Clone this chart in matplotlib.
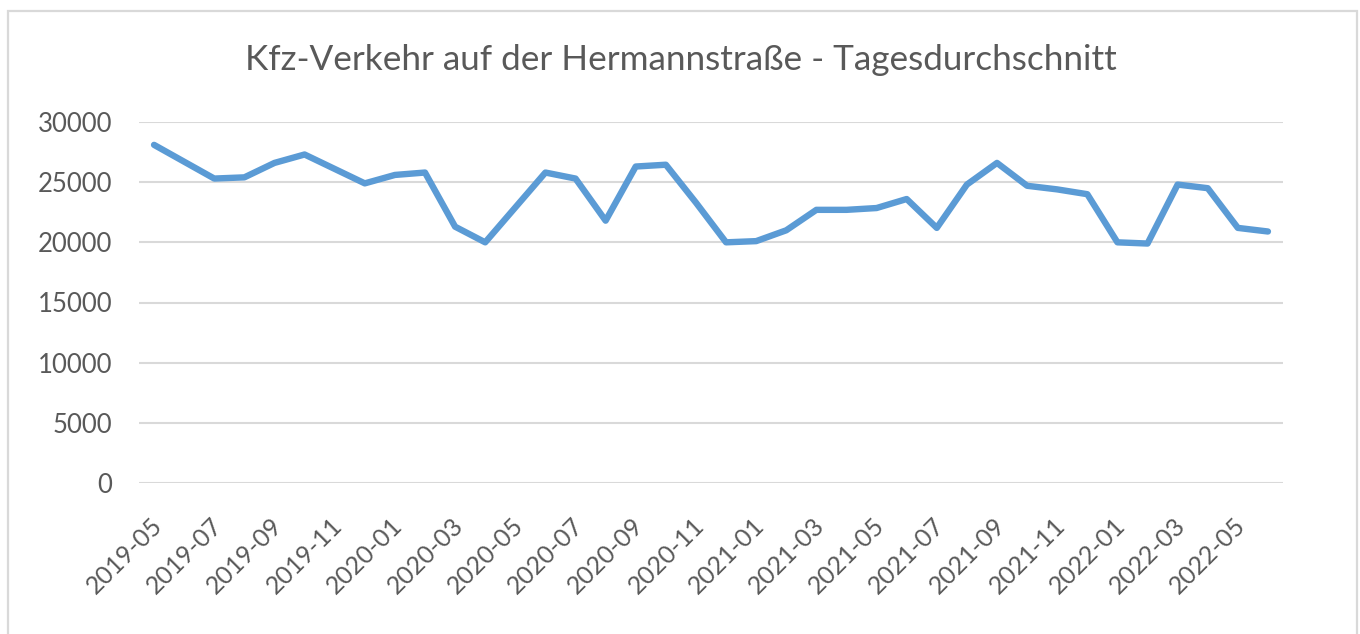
import matplotlib
matplotlib.use("Agg")
import matplotlib.pyplot as plt
from matplotlib.patches import Rectangle
import matplotlib.transforms as mtransforms

months = ["2019-05", "2019-06", "2019-07", "2019-08", "2019-09", "2019-10", "2019-11", "2019-12",
          "2020-01", "2020-02", "2020-03", "2020-04", "2020-05", "2020-06", "2020-07", "2020-08",
          "2020-09", "2020-10", "2020-11", "2020-12", "2021-01", "2021-02", "2021-03", "2021-04",
          "2021-05", "2021-06", "2021-07", "2021-08", "2021-09", "2021-10", "2021-11", "2021-12",
          "2022-01", "2022-02", "2022-03", "2022-04", "2022-05", "2022-06"]
traffic = [28100, 26700, 25300, 25400, 26600, 27300, 26100, 24900,
           25600, 25800, 21300, 20000, 22900, 25800, 25300, 21800,
           26300, 26450, 23300, 20000, 20100, 21000, 22700, 22700,
           22850, 23600, 21200, 24800, 26600, 24700, 24400, 24000,
           20000, 19900, 24800, 24500, 21200, 20900]
yticks = [0, 5000, 10000, 15000, 20000, 25000, 30000]
title = "Kfz-Verkehr auf der Hermannstraße - Tagesdurchschnitt"

W, H = 1360, 634
fig = plt.figure(figsize=(W / 100, H / 100), dpi=100)
fig.patch.set_facecolor("white")

# chart border
fig.patches.append(Rectangle((8 / W, -0.1), (1357 - 8) / W, 1 - 11 / H + 0.1,
                             transform=fig.transFigure, fill=False,
                             edgecolor="#D9D9D9", linewidth=1.6))

ax = fig.add_axes([139 / W, 1 - 483 / H, (1283 - 139) / W, (483 - 122) / H])
x = list(range(len(months)))
ax.plot(x, traffic, color="#5B9BD5", linewidth=4.6, solid_joinstyle="round",
        solid_capstyle="round", zorder=3)
ax.set_xlim(-0.5, len(months) - 0.5)
ax.set_ylim(0, 30000)
ax.set_yticks(yticks)
ax.set_yticklabels([str(v) for v in yticks])
ax.grid(axis="y", color="#D9D9D9", linewidth=1.5)
ax.set_axisbelow(True)
for s in ax.spines.values():
    s.set_visible(False)

ax.set_xticks(x[::2])
ax.set_xticklabels(months[::2], rotation=45, ha="right", rotation_mode="anchor")
ax.tick_params(axis="y", length=0, colors="#595959", labelsize=18.5, pad=19)
ax.tick_params(axis="x", length=0, colors="#595959", labelsize=18, pad=22)
shift = mtransforms.ScaledTranslation(-4 / 100, 0, fig.dpi_scale_trans)
for lab in ax.get_xticklabels():
    lab.set_transform(lab.get_transform() + shift)
for lab in ax.get_xticklabels() + ax.get_yticklabels():
    lab.set_fontfamily("Lato")
    lab.set_color("#595959")

fig.text(681 / W, 1 - 60 / H, title, ha="center", va="center",
         fontsize=25.3, color="#595959", fontfamily="Lato")

fig.savefig("out.png", dpi=100, facecolor="white")
